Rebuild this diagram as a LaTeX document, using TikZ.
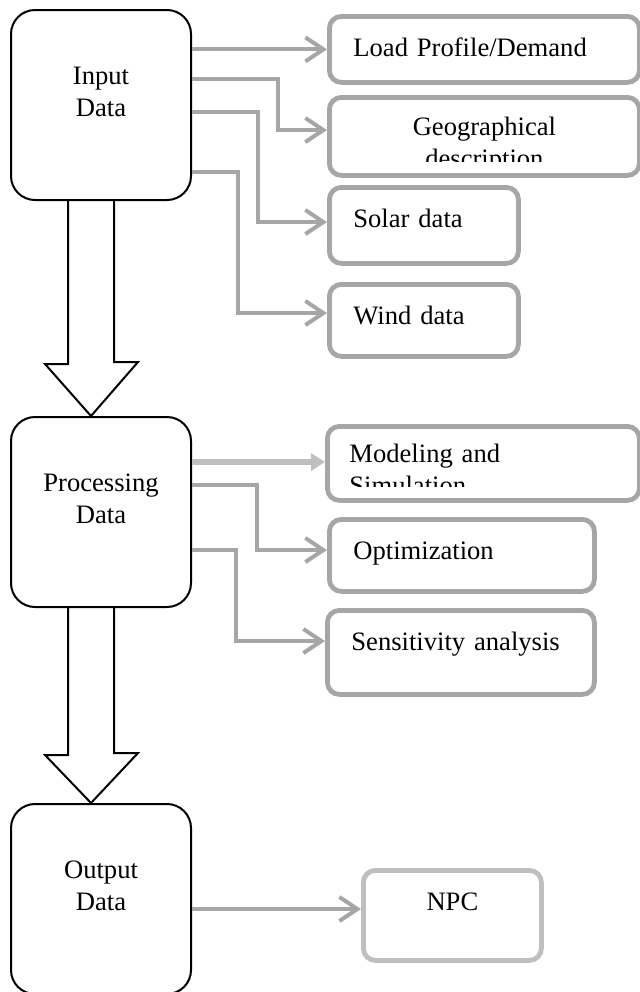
\documentclass[tikz,border=0pt]{standalone}
\usepackage{fontspec}
\setmainfont{Liberation Serif}
\usetikzlibrary{arrows.meta}
\definecolor{boxgray}{HTML}{A6A6A6}
\definecolor{lightgray}{HTML}{BFBFBF}

\begin{document}
\begin{tikzpicture}[x=0.5pt,y=-0.5pt,
  every node/.style={font=\fontsize{13.3pt}{16pt}\selectfont},
  stage/.style={draw, line width=1pt, rounded corners=12pt, anchor=north west, inner sep=0pt, text width=90pt, align=center, text height=37pt, text depth=58pt},
  item/.style={draw=boxgray, line width=2.4pt, rounded corners=6pt, anchor=north west, inner xsep=12pt, inner ysep=0pt, align=left, text height=20pt},
  conn/.style={draw=boxgray, line width=2pt, -{Straight Barb[length=9pt,width=12pt]}},
  bigarrow/.style={draw, line width=1pt, line join=miter}]
\useasboundingbox (0,0) rectangle (640,992);

\node[stage] (input) at (10,9) {Input\\Data};
\node[stage] (proc) at (10,416) {Processing\\Data};
\node[stage] (output) at (10,803) {Output\\Data};

\node[item, text width=131pt, text depth=13pt] (load) at (327,14) {Load Profile/Demand};
\node[item, text width=131pt, text depth=19pt] (geo) at (327,95) {};
\node[item, text width=70.5pt, text depth=18pt] (solar) at (327,185) {Solar data};
\node[item, text width=70.5pt, text depth=16pt] (wind) at (327,282) {Wind data};
\node[item, text width=132pt, text height=19pt, text depth=18pt] (model) at (325,424) {};
\node[item, text width=108.5pt, text depth=16pt] (opt) at (327,517) {Optimization};
\node[item, text width=109.5pt, text depth=22pt] (sens) at (325,608) {Sensitivity analysis};
\node[item, draw=lightgray, text width=65pt, text depth=25pt, align=center] (npc) at (361,868) {NPC};

\begin{scope}
\clip (geo.north west) rectangle ([yshift=8pt]geo.south east);
\node[inner sep=0pt, text width=131pt, align=center, anchor=base] (geotext) at ([yshift=-20pt]geo.north) {Geographical\\description};
\end{scope}
\begin{scope}
\clip (model.north west) rectangle ([yshift=8pt]model.south east);
\node[inner sep=0pt, text width=132pt, align=left, anchor=base west] (modeltext) at ([xshift=12pt,yshift=-19pt]model.north west) {Modeling and\\Simulation};
\end{scope}

\draw[conn] (input.east |- load) -- (load.west);
\draw[conn] (input.east |- 0,79) -| (278,130) -- (geo.west |- 0,130);
\draw[conn] (input.east |- 0,112) -| (258,222) -- (solar.west |- 0,222);
\draw[conn] (input.east |- 0,172) -| (238,313) -- (wind.west |- 0,313);
\draw[draw=lightgray, line width=2.6pt, -{Triangle[length=7pt,width=8.5pt]}] (proc.east |- 0,462) -- (model.west |- 0,462);
\draw[conn] (proc.east |- 0,485) -| (257,550) -- (opt.west |- 0,550);
\draw[conn] (proc.east |- 0,550) -| (236,641) -- (sens.west |- 0,641);
\draw[conn] (output.east |- 0,909) -- (npc.west |- 0,909);

\draw[bigarrow] ([xshift=-16.5pt]input.south) -- ++(0,163) -- ++(-23,0) -- ([xshift=-5pt]proc.north) -- ++(47,-54) -- ++(-24,0) -- ([xshift=6.5pt]input.south);
\draw[bigarrow] ([xshift=-16.5pt]proc.south) -- ++(0,147) -- ++(-23,0) -- ([xshift=-5pt]output.north) -- ++(47,-50) -- ++(-24,0) -- ([xshift=6.5pt]proc.south);
\end{tikzpicture}
\end{document}
